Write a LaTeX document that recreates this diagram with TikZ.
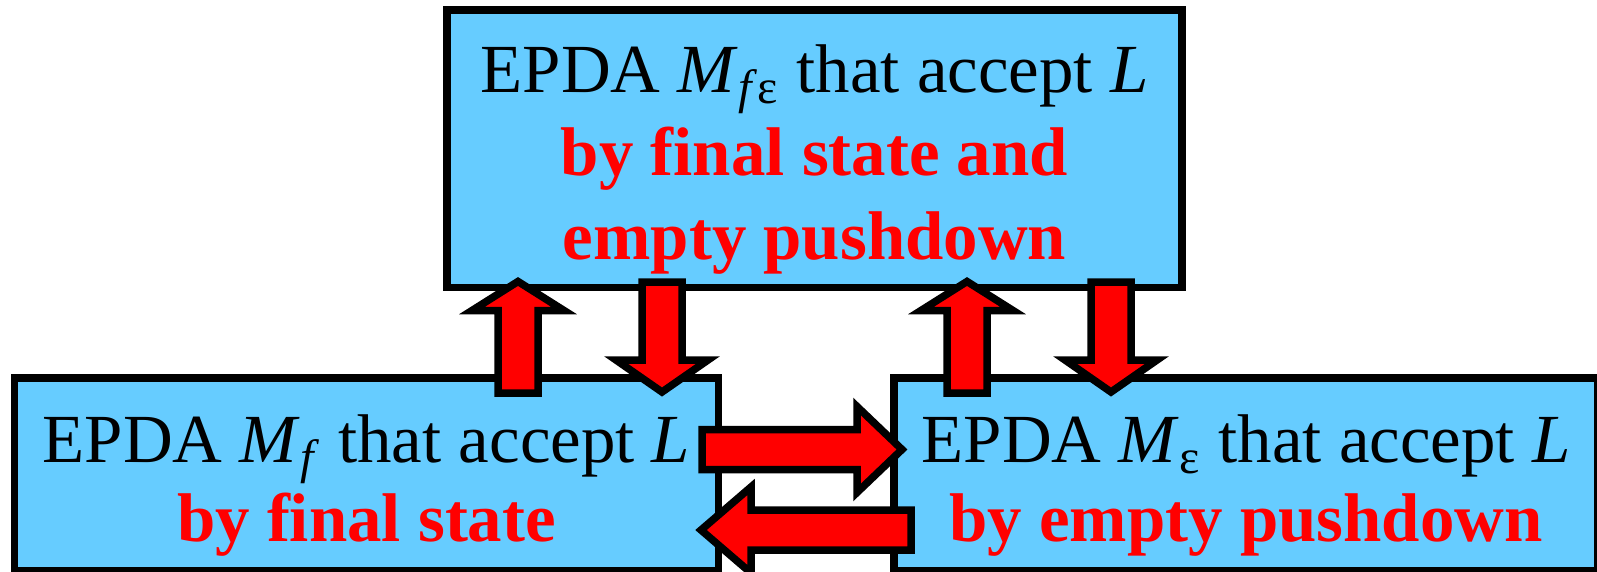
\documentclass[tikz,border=0pt]{standalone}
\usepackage{fontspec}
\setmainfont{Liberation Serif}
\usetikzlibrary{calc}

\definecolor{boxblue}{RGB}{102,204,255}

\tikzset{
    box/.style={draw, rectangle, line width=0.075cm, fill=boxblue, inner sep=0pt},
    boxtext/.style={align=center, inner sep=0pt},
    arrowbody/.style={draw, line width=0.075cm, fill=red, line join=miter, miter limit=10}
}

\newcommand{\redline}[1]{\textcolor{red}{\bfseries #1}}

% tail, tip, head length, head half width
\newcommand{\fatarrow}[4]{
    \coordinate (h) at ($(#2)!#3!(#1)$);
    \draw[arrowbody] ($(#1)!0.2cm!90:(#2)$) -- ($(h)!0.2cm!90:(#2)$) -- ($(h)!#4!90:(#2)$) -- (#2)
        -- ($(h)!#4!-90:(#2)$) -- ($(h)!0.2cm!-90:(#2)$) -- ($(#1)!0.2cm!-90:(#2)$) -- cycle;
}

\begin{document}
\begin{tikzpicture}

                \useasboundingbox (0, 0) rectangle (15.97, 5.71);

                \node[box, minimum width=7.35cm, minimum height=2.775cm] (fe) at (8.145, 4.2225) {};
                \node[box, minimum width=7.04cm, minimum height=1.93cm] (f) at (3.665, 0.965) {};
                \node[box, minimum width=7.04cm, minimum height=1.93cm] (e) at (12.46, 0.965) {};

                \node[boxtext, font=\fontsize{19.6}{23.7}\selectfont] (feText) at (8.145, 4.115)
                    {EPDA \textit{M}\textsubscript{\textit{f}ε} that accept \textit{L}\\ \redline{by final state and}\\ \redline{empty pushdown}};
                \node[boxtext, font=\fontsize{19.6}{22.6}\selectfont] (fText) at (3.665, 0.855)
                    {EPDA \textit{M}\textsubscript{\textit{f}} that accept \textit{L}\\ \redline{by final state}};
                \node[boxtext, font=\fontsize{19.6}{22.6}\selectfont] (eText) at (12.46, 0.855)
                    {EPDA \textit{M}\textsubscript{ε} that accept \textit{L}\\ \redline{by empty pushdown}};

                \coordinate (fUpTail) at (5.18, 1.78);
                \coordinate (fUpTip) at (5.18, 2.895);
                \coordinate (fDownTail) at (6.62, 2.89);
                \coordinate (fDownTip) at (6.62, 1.79);
                \coordinate (eUpTail) at (9.67, 1.78);
                \coordinate (eUpTip) at (9.67, 2.895);
                \coordinate (eDownTail) at (11.11, 2.89);
                \coordinate (eDownTip) at (11.11, 1.79);
                \coordinate (feTail) at (7.02, 1.215);
                \coordinate (feTip) at (9.02, 1.215);
                \coordinate (efTail) at (9.11, 0.41);
                \coordinate (efTip) at (7.01, 0.41);

                \fatarrow{fUpTail}{fUpTip}{0.29cm}{0.46cm}
                \fatarrow{fDownTail}{fDownTip}{0.32cm}{0.46cm}
                \fatarrow{eUpTail}{eUpTip}{0.29cm}{0.46cm}
                \fatarrow{eDownTail}{eDownTip}{0.32cm}{0.46cm}
                \fatarrow{feTail}{feTip}{0.45cm}{0.43cm}
                \fatarrow{efTail}{efTip}{0.5cm}{0.43cm}
\end{tikzpicture}
\end{document}
